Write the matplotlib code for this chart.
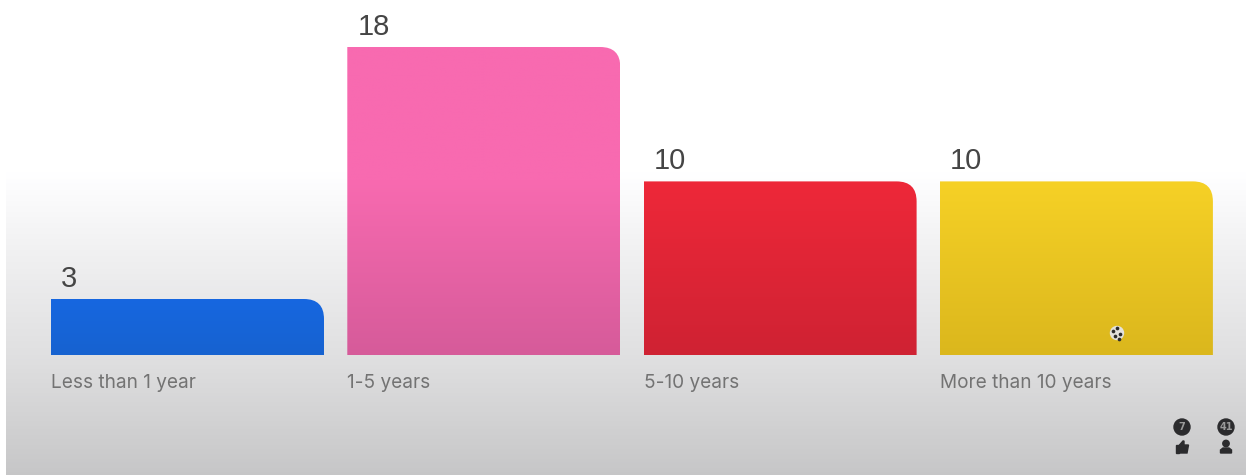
import matplotlib.pyplot as plt
import numpy as np
from matplotlib.patches import Circle, PathPatch, Polygon, Rectangle
from matplotlib.path import Path
from matplotlib.colors import LinearSegmentedColormap

categories = ["Less than 1 year", "1-5 years", "5-10 years", "More than 10 years"]
values = [3, 18, 10, 10]
top_colors = ["#1667e0", "#f86ab0", "#ee2839", "#f6d126"]
bottom_colors = ["#1762d0", "#d65b9a", "#cf2233", "#dbb71d"]

W, H = 1246, 475
px_per_unit = 16.8   # bars have a small offset below zero
pitch = 296.3
bar_w = 273 / pitch
base_y = 355
first_x = 187.5
fade_start = 180     # pixel row where the page and bars start to darken

fig = plt.figure(figsize=(W / 100, H / 100), dpi=100)

# page background, pixel coords
bg = fig.add_axes([0, 0, 1, 1])
bg.axis("off")
stops = [(0, 1.0), (172 / H, 1.0), (250 / H, 0.945), (360 / H, 0.875), (1, 0.78)]
cmap = LinearSegmentedColormap.from_list("page", [(p, (g, g, g + 0.004)) for p, g in stops])
bg.imshow(np.linspace(0, 1, 300).reshape(-1, 1), cmap=cmap, aspect="auto", extent=(6, W, H, 0), vmin=0, vmax=1)
bg.set_xlim(0, W)
bg.set_ylim(H, 0)

# chart axes: x is the category index, y is the value
ax = fig.add_axes([0, 0, 1, 1], facecolor="none")
bottom = -(56 / px_per_unit - 3)
ax.axis("off")

rx = 20 / pitch
ry = 20 / px_per_unit
for i, v in enumerate(values):
    l, r = i - bar_w / 2, i + bar_w / 2
    verts = [(l, bottom), (l, v), (r - rx, v), (r, v), (r, v - ry), (r, bottom), (l, bottom)]
    codes = [Path.MOVETO, Path.LINETO, Path.LINETO, Path.CURVE3, Path.CURVE3, Path.LINETO, Path.CLOSEPOLY]
    patch = PathPatch(Path(verts, codes), facecolor="none", edgecolor="none")
    ax.add_patch(patch)
    bar_h = (v - bottom) * px_per_unit
    flat = max(0.0, (fade_start - (base_y - bar_h)) / bar_h)
    cm = LinearSegmentedColormap.from_list("bar", [(0, top_colors[i]), (flat, top_colors[i]), (1, bottom_colors[i])])
    im = ax.imshow(np.linspace(0, 1, 200).reshape(-1, 1), cmap=cm, aspect="auto", extent=(l, r, bottom, v))
    im.set_clip_path(patch)
    ax.text(l + 10 / pitch, v + 6 / px_per_unit, str(v), fontsize=21, family="Liberation Sans",
            color="#454545", ha="left", va="bottom")
    ax.text(l, bottom - 28 / px_per_unit, categories[i], fontsize=13.7, family="Inter",
            color="#737373", ha="left", va="center")
ax.set_xlim(-first_x / pitch, (W - first_x) / pitch)
ax.set_ylim(bottom - (H - base_y) / px_per_unit, bottom + base_y / px_per_unit)

# overlay icons, pixel coords
top = fig.add_axes([0, 0, 1, 1], facecolor="none")
top.set_xlim(0, W)
top.set_ylim(H, 0)
top.axis("off")
dark = "#2b2b2d"
for x, label in [(1182, "7"), (1226, "41")]:
    top.add_patch(Circle((x, 427), 8, color=dark))
    top.text(x, 427, label, color="#9a9a9a", fontsize=7, fontweight="bold", ha="center", va="center")
# thumb
top.add_patch(Rectangle((1175.5, 445), 3, 8, color=dark))
top.add_patch(Polygon([(1179.5, 445), (1183, 441), (1184, 441), (1184, 445), (1188.5, 445),
                       (1187, 453), (1179.5, 453)], color=dark))
# person
top.add_patch(Circle((1226, 443.5), 3.2, color=dark))
top.add_patch(Polygon([(1220.5, 453), (1220.5, 450), (1223, 448), (1229, 448), (1231.5, 450), (1231.5, 453)], color=dark))
# cursor blob
top.add_patch(Circle((1117, 333), 6.5, color="#e4e2dc"))
top.scatter([1113, 1117, 1120, 1115, 1119], [331, 328, 334, 336, 339], s=7, color="#2c2c2c", linewidths=0)

fig.savefig("out.png", dpi=100)
